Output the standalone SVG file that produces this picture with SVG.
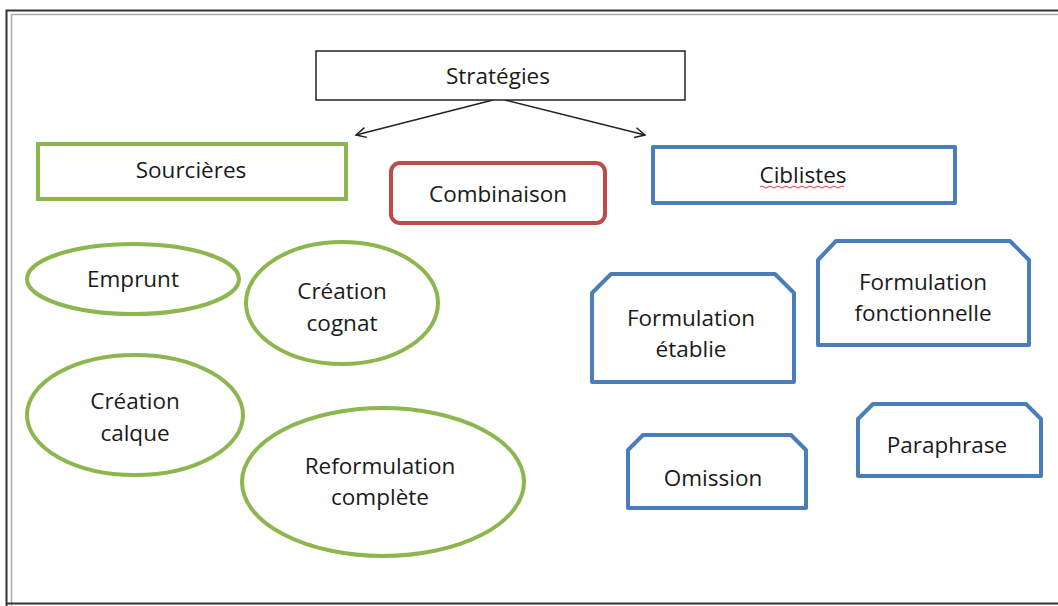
<svg xmlns="http://www.w3.org/2000/svg" width="1058" height="606" viewBox="0 0 1058 606">
<defs>
<style>
text{font-family:"Open Sans","Liberation Sans",sans-serif;font-size:22.5px;fill:#1a1a1a;text-anchor:middle;dominant-baseline:central}
.g{fill:#fff;stroke:#8DB74E;stroke-width:4}
.b{fill:#fff;stroke:#4A7EBB;stroke-width:4;stroke-linejoin:round}
.conn{stroke:#222;stroke-width:1.5;fill:none}
</style>
<marker id="arr" viewBox="0 0 12 12" refX="11" refY="6" markerWidth="12" markerHeight="12" markerUnits="userSpaceOnUse" orient="auto">
<path d="M1,1 L11,6 L1,11" fill="none" stroke="#222" stroke-width="1.5"/>
</marker>
</defs>
<rect x="0" y="0" width="1058" height="606" fill="#fff"/>
<g id="frame" fill="none">
<path d="M6.5,606 V10.5 H1058" stroke="#333" stroke-width="2"/>
<path d="M11.5,606 V14.5 H1058" stroke="#aaa" stroke-width="1.5"/>
<path d="M6,603.5 H1058" stroke="#333" stroke-width="2"/>
</g>
<g id="connectors">
<path class="conn" d="M493,100 L356,135" marker-end="url(#arr)"/>
<path class="conn" d="M505,100 L645,135" marker-end="url(#arr)"/>
</g>
<g id="strategies">
<rect x="316" y="51" width="369" height="49" fill="#fff" stroke="#222" stroke-width="1.5"/>
<text x="498" y="75">Stratégies</text>
</g>
<g id="sourcieres">
<rect class="g" x="38" y="144" width="308" height="55"/>
<text x="191" y="169">Sourcières</text>
</g>
<g id="combinaison">
<rect x="391" y="163" width="214" height="60" rx="9" fill="#fff" stroke="#BE4B48" stroke-width="4"/>
<text x="498" y="193">Combinaison</text>
</g>
<g id="ciblistes">
<rect class="b" x="653" y="147" width="302" height="56"/>
<text x="803" y="174">Ciblistes</text>
<path d="M760,187 q2,-2 4,0 t4,0 t4,0 t4,0 t4,0 t4,0 t4,0 t4,0 t4,0 t4,0 t4,0 t4,0 t4,0 t4,0 t4,0 t4,0 t4,0 t4,0 t4,0 t4,0 t4,0" fill="none" stroke="#e03030" stroke-width="1"/>
</g>
<g id="emprunt">
<ellipse class="g" cx="133" cy="279" rx="106" ry="35"/>
<text x="133" y="278">Emprunt</text>
</g>
<g id="creation-cognat">
<ellipse class="g" cx="342" cy="303" rx="96" ry="61"/>
<text x="342" y="290">Création</text>
<text x="342" y="322">cognat</text>
</g>
<g id="creation-calque">
<ellipse class="g" cx="135" cy="415" rx="108" ry="60"/>
<text x="135" y="400">Création</text>
<text x="135" y="432">calque</text>
</g>
<g id="reformulation">
<ellipse class="g" cx="383" cy="482" rx="141" ry="74"/>
<text x="380" y="465">Reformulation</text>
<text x="380" y="496">complète</text>
</g>
<g id="formulation-etablie">
<path class="b" d="M611,274 H775 L794,293 V382 H592 V293 Z"/>
<text x="691" y="317">Formulation</text>
<text x="691" y="348">établie</text>
</g>
<g id="formulation-fonctionnelle">
<path class="b" d="M836,241 H1010 L1029,260 V345 H818 V260 Z"/>
<text x="923" y="281">Formulation</text>
<text x="923" y="312">fonctionnelle</text>
</g>
<g id="omission">
<path class="b" d="M643,435 H791 L806,450 V508 H628 V450 Z"/>
<text x="713" y="477">Omission</text>
</g>
<g id="paraphrase">
<path class="b" d="M873,404 H1026 L1041,419 V476 H858 V419 Z"/>
<text x="947" y="444">Paraphrase</text>
</g>
</svg>
